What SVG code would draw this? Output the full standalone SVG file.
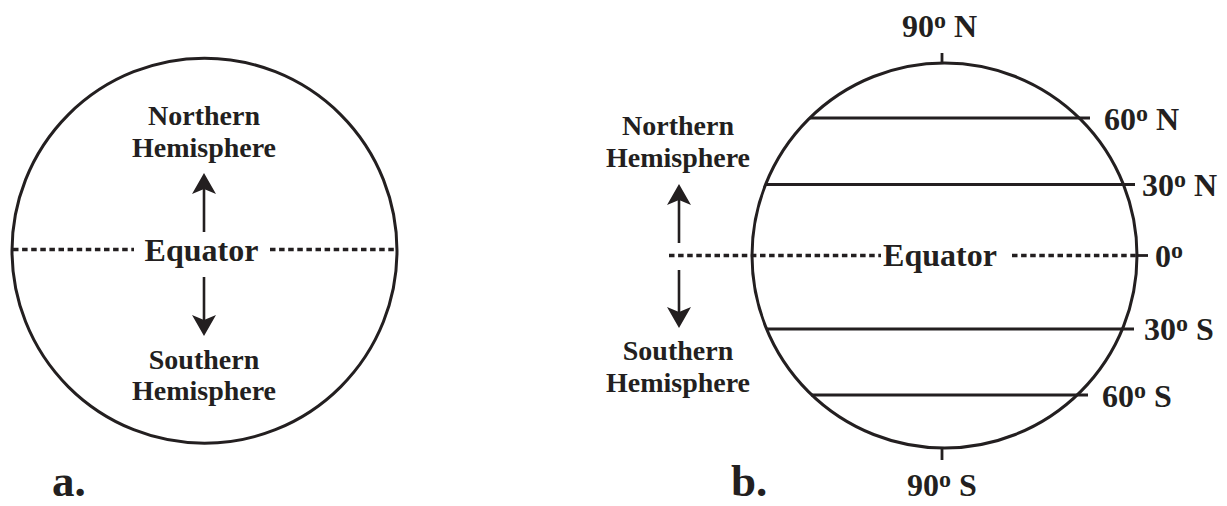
<svg xmlns="http://www.w3.org/2000/svg" width="1227" height="506" viewBox="0 0 1227 506">
<style>
  .ring { fill: none; stroke: #231f20; stroke-width: 3; }
  .lat { stroke: #231f20; stroke-width: 2.8; fill: none; }
  .dot { stroke: #231f20; stroke-width: 3.6; stroke-dasharray: 5.5 3.6; fill: none; }
  .shaft { stroke: #231f20; stroke-width: 2.6; fill: none; marker-end: url(#head); }
  text { font-family: "Liberation Serif", "Times New Roman", serif; font-weight: bold; fill: #231f20; }
  .hemi { font-size: 28px; text-anchor: middle; }
  .eq { font-size: 32px; text-anchor: middle; }
  .deg { font-size: 32px; }
  .sup { font-size: 24px; }
  .tag { font-size: 45px; }
</style>
<defs>
  <marker id="head" viewBox="-18 -13 23 26" refX="0" refY="0" markerWidth="23" markerHeight="26" markerUnits="userSpaceOnUse" orient="auto">
    <path d="M4,0 L-17,-12 L-12,0 L-17,12 Z" fill="#231f20"/>
  </marker>
</defs>

<g id="panel-a">
  <g id="globe-a">
    <circle class="ring" cx="204.5" cy="250.7" r="192.5"/>
  </g>
  <g id="equator-a">
    <text class="eq" x="201.5" y="261">Equator</text>
  </g>
  <g id="north-a">
    <text class="hemi" x="204" y="125">Northern</text>
    <text class="hemi" x="204" y="157">Hemisphere</text>
  </g>
  <g id="south-a">
    <text class="hemi" x="204" y="369">Southern</text>
    <text class="hemi" x="204" y="400">Hemisphere</text>
  </g>
  <g id="label-a">
    <text class="tag" x="52" y="496">a.</text>
  </g>
</g>

<g id="panel-b">
  <g id="globe-b">
    <circle class="ring" cx="944.5" cy="255.5" r="192.5"/>
  </g>
  <g id="equator-b">
    <text class="eq" x="940" y="266">Equator</text>
  </g>
  <g id="north-b">
    <text class="hemi" x="678" y="135">Northern</text>
    <text class="hemi" x="678" y="167">Hemisphere</text>
  </g>
  <g id="south-b">
    <text class="hemi" x="678" y="360">Southern</text>
    <text class="hemi" x="678" y="392">Hemisphere</text>
  </g>
  <g id="lat-labels">
    <text class="deg" x="902" y="37">90<tspan class="sup" dy="-9">o</tspan><tspan dy="9"> N</tspan></text>
    <text class="deg" x="1104" y="130">60<tspan class="sup" dy="-9">o</tspan><tspan dy="9"> N</tspan></text>
    <text class="deg" x="1142" y="196">30<tspan class="sup" dy="-9">o</tspan><tspan dy="9"> N</tspan></text>
    <text class="deg" x="1155" y="267">0<tspan class="sup" dy="-9">o</tspan></text>
    <text class="deg" x="1144" y="340">30<tspan class="sup" dy="-9">o</tspan><tspan dy="9"> S</tspan></text>
    <text class="deg" x="1102" y="407">60<tspan class="sup" dy="-9">o</tspan><tspan dy="9"> S</tspan></text>
    <text class="deg" x="907" y="496">90<tspan class="sup" dy="-9">o</tspan><tspan dy="9"> S</tspan></text>
  </g>
  <g id="label-b">
    <text class="tag" x="731" y="496">b.</text>
  </g>
</g>

<g id="connectors">
  <!-- panel a -->
  <line class="dot" x1="13" y1="249.5" x2="134" y2="249.5"/>
  <line class="dot" x1="270" y1="249.5" x2="397" y2="249.5"/>
  <line class="shaft" x1="204" y1="232" x2="204" y2="177"/>
  <line class="shaft" x1="204" y1="277" x2="204" y2="332"/>
  <!-- panel b -->
  <line class="dot" x1="669" y1="255.5" x2="881" y2="255.5"/>
  <line class="dot" x1="1012" y1="255.5" x2="1137" y2="255.5"/>
  <line class="lat" x1="1136" y1="255.5" x2="1148" y2="255.5"/>
  <line class="shaft" x1="679" y1="243" x2="679" y2="188"/>
  <line class="shaft" x1="679" y1="270" x2="679" y2="324"/>
  <line class="lat" x1="942" y1="53" x2="942" y2="63"/>
  <line class="lat" x1="942" y1="448" x2="942" y2="460"/>
  <line class="lat" x1="810" y1="118" x2="1090" y2="118"/>
  <line class="lat" x1="766" y1="184.5" x2="1135" y2="184.5"/>
  <line class="lat" x1="767" y1="329" x2="1134" y2="329"/>
  <line class="lat" x1="811" y1="395" x2="1088" y2="395"/>
</g>
</svg>
